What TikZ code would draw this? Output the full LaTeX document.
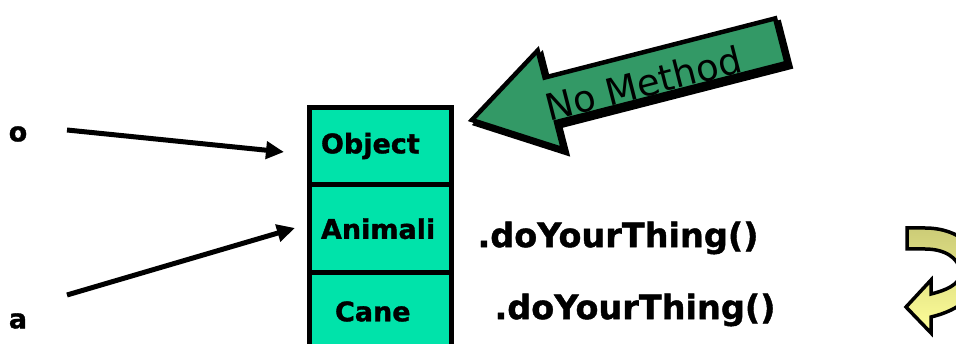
\documentclass[tikz,border=0pt]{standalone}
\usepackage{fontspec}
\setmainfont{DejaVu Sans}[BoldFeatures={FakeBold=1.2}]
\usetikzlibrary{positioning,arrows.meta}

\definecolor{stackgreen}{RGB}{0,227,170}
\definecolor{arrowgreen}{RGB}{51,153,102}
\definecolor{khaki}{RGB}{204,204,119}
\definecolor{paleyellow}{RGB}{255,255,153}

\tikzset{
  cls/.style={draw, line width=5pt, fill=stackgreen, minimum width=142pt,
    outer sep=0pt, inner ysep=0pt, inner xsep=12pt, text width=118pt, align=left,
    font=\fontsize{27}{30}\selectfont\bfseries},
  ref/.style={line width=5pt, -{Triangle[length=18pt,width=17pt]}},
  var/.style={font=\fontsize{27}{30}\selectfont\bfseries},
  call/.style={font=\fontsize{33.5}{38}\selectfont\bfseries},
}

\begin{document}
\begin{tikzpicture}[x=1pt,y=-1pt]
  \useasboundingbox (0,0) rectangle (956,344);
  \clip (0,0) rectangle (956,344);

  % class stack
  \node[cls, minimum height=77pt] (object) at (380,146) {Object};
  \node[cls, minimum height=88.5pt, below=0pt of object] (animali) {Animali};
  \node[cls, minimum height=77pt, below=0pt of animali] (cane) {\hspace*{14pt}Cane};

  % references
  \node[var] (o) at (18,134) {o};
  \node[var] (a) at (18,321) {a};
  \coordinate (o-from) at (67,130);
  \coordinate (o-to) at (284,152);
  \coordinate (a-from) at (67,295);
  \coordinate (a-to) at (295,228);
  \draw[ref] (o-from) -- (o-to);
  \draw[ref] (a-from) -- (a-to);

  % methods
  \node[call] (animali-m) at (618,238) {.doYourThing()};
  \node[call] (cane-m) at (635,310) {.doYourThing()};

  % no method arrow
  \begin{scope}[shift={(472,125)}, rotate=14.4]
    \filldraw[line width=4.5pt, line join=miter]
      (4,0) -- (85,-51) -- (85,-23) -- (323,-23) -- (323,23) -- (85,23) -- (85,51) -- cycle;
  \end{scope}
  \begin{scope}[shift={(468,121)}, rotate=14.4]
    \draw[line width=4.5pt, line join=miter, fill=arrowgreen]
      (4,0) -- (85,-51) -- (85,-23) -- (323,-23) -- (323,23) -- (85,23) -- (85,51) -- cycle;
    \node[rotate=14.4, font=\fontsize{37}{40}\selectfont] (nomethod) at (179,7) {No Method};
  \end{scope}

  % turn arrow
  \draw[line width=3.5pt, line join=miter, top color=khaki, bottom color=paleyellow]
    (907,228) -- (925,228) .. controls (960,228) and (982,250) .. (980,272)
    .. controls (978,295) and (960,310) .. (931,317) -- (931,333) -- (906,307)
    -- (931,280) -- (931,294) .. controls (955,288) and (962,280) .. (960,270)
    .. controls (958,258) and (945,249) .. (925,249) -- (907,249) -- cycle;
\end{tikzpicture}
\end{document}
